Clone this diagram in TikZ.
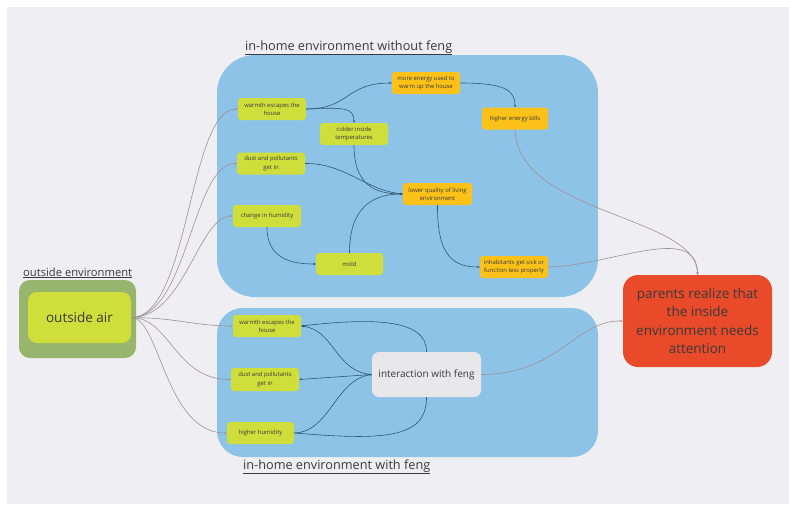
\documentclass[tikz,border=0pt]{standalone}
\usepackage{fontspec}
\setmainfont{Open Sans}
\usetikzlibrary{arrows.meta}
\definecolor{bgpaper}{HTML}{EFEFF3}
\definecolor{zoneblue}{HTML}{8EC3E8}
\definecolor{limefill}{HTML}{CFDE3A}
\definecolor{amberfill}{HTML}{FCC21A}
\definecolor{olivefill}{HTML}{98B56D}
\definecolor{alertred}{HTML}{E84A2A}
\definecolor{softgray}{HTML}{E8E8EA}
\definecolor{inkdark}{HTML}{3A3A3A}
\definecolor{wireout}{HTML}{9C9292}
\definecolor{wirein}{HTML}{2F5874}
\tikzset{
  zone/.style={fill=zoneblue, draw=none},
  card/.style={rounded corners=3pt, draw=none, text=inkdark, font=\fontsize{5.9}{8.2}\selectfont,
    minimum width=68pt, minimum height=22pt, align=center, inner sep=1pt},
  limecard/.style={card, fill=limefill},
  ambercard/.style={card, fill=amberfill},
  heading/.style={text=inkdark, font=\fontsize{12.7}{14}\selectfont, inner sep=0pt},
  wireo/.style={draw=wireout, line width=0.6pt, -{Stealth[length=2.6pt,width=2.2pt]}},
  wirei/.style={draw=wirein, line width=0.6pt, -{Stealth[length=2.6pt,width=2.2pt]}},
}
\begin{document}
\begin{tikzpicture}[x=1pt, y=-1pt]
  % canvas
  \useasboundingbox (0,0) rectangle (789,504);
  \fill[white] (0,0) rectangle (789,504);
  \fill[bgpaper] (7,7) rectangle (789,504);

  % zones
  \fill[zone, rounded corners=38pt] (217,55) rectangle (598,297);
  \fill[zone, rounded corners=26pt] (217,308) rectangle (598,457);
  \node[heading, anchor=base west] (ttop) at (245,50) {\underline{in-home environment without feng}};
  \node[heading, anchor=base west] (tbot) at (243,469) {\underline{in-home environment with feng}};
  \node[heading, anchor=base west, font=\fontsize{11.2}{13}\selectfont] (tout) at (23,276) {\underline{outside environment}};

  % outside air
  \node[fill=olivefill, rounded corners=11pt, minimum width=117pt, minimum height=78pt, draw=none] (outer) at (77.5,319) {};
  \node[fill=limefill, rounded corners=9pt, minimum width=103pt, minimum height=51pt, text=inkdark,
        font=\fontsize{13.5}{16}\selectfont] (air) at (79.5,317.5) {outside air};

  % outcome
  \node[fill=alertred, rounded corners=15pt, minimum width=149pt, minimum height=92pt, text=inkdark,
        align=center, font=\fontsize{13.5}{18.5}\selectfont] (alert) at (697.5,321)
        {parents realize that\\the inside\\environment needs\\attention};

  % without feng
  \node[limecard] (tw) at (272,109) {warmth escapes the\\house};
  \node[ambercard] (te) at (426,83) {more energy used to\\warm up the house};
  \node[ambercard, minimum width=66pt] (tb) at (515,118.5) {higher energy bills};
  \node[limecard] (tc) at (354,134) {colder inside\\temperatures};
  \node[limecard] (td) at (271,163.5) {dust and pollutants\\get in};
  \node[ambercard, minimum width=69pt] (tq) at (437.5,194) {lower quality of living\\environment};
  \node[limecard] (th) at (267,216) {change in humidity};
  \node[limecard, minimum width=67pt] (tm) at (349.5,264) {mold};
  \node[ambercard] (ti) at (514,267) {inhabitants get sick or\\function less properly};

  % with feng
  \node[limecard] (bw) at (267,326) {warmth escapes the\\house};
  \node[limecard, minimum height=23pt] (bd) at (265,379.5) {dust and pollutants\\get in};
  \node[limecard, minimum width=67pt] (bh) at (260.5,433) {higher humidity};
  \node[fill=softgray, rounded corners=7pt, minimum width=109pt, minimum height=45pt, text=inkdark,
        font=\fontsize{10}{12}\selectfont] (bi) at (426.5,374.5) {interaction with feng};

  % outside air into both zones
  \draw[wireo] (air.east) .. controls (190,317.5) and (188,109) .. (tw.west);
  \draw[wireo] (air.east) .. controls (188,317.5) and (192,163.5) .. (td.west);
  \draw[wireo] (air.east) .. controls (185,317.5) and (198,216) .. (th.west);
  \draw[wireo] (air.east) .. controls (175,317.5) and (195,326) .. (bw.west);
  \draw[wireo] (air.east) .. controls (170,317.5) and (175,379.5) .. (bd.west);
  \draw[wireo] (air.east) .. controls (160,317.5) and (165,433) .. (bh.west);

  % chain without feng
  \draw[wirei] (tw.east) .. controls (350,109) and (345,83) .. (te.west);
  \draw[wirei] (tw.east) .. controls (345,107) and (354,108) .. (tc.north);
  \draw[wirei] (te.east) .. controls (505,83) and (515,90) .. (tb.north);
  \draw[wirei] (tc.south) .. controls (354,185) and (375,194) .. (tq.west);
  \draw[wirei] (td.east) .. controls (345,163) and (365,190) .. (tq.west);
  \draw[wirei] (tm.north) .. controls (349.5,205) and (375,194) .. (tq.west);
  \draw[wirei] (th.south) .. controls (267,258) and (290,264) .. (tm.west);
  \draw[wirei] (tq.south) .. controls (437,258) and (455,267) .. (ti.west);
  \draw[wireo] (tb.south) .. controls (518,215) and (697,215) .. (alert.north);
  \draw[wireo] (ti.east) .. controls (610,266) and (697,222) .. (alert.north);

  % chain with feng
  \draw[wirei] (bi.west) .. controls (335,372) and (335,330) .. (bw.east);
  \draw[wirei] (bi.north) .. controls (427,318) and (370,318) .. (bw.east);
  \draw[wirei] (bi.west) -- (bd.east);
  \draw[wirei] (bh.east) .. controls (330,432) and (335,380) .. (bi.west);
  \draw[wirei, -] (bh.east) .. controls (380,440) and (427,440) .. (bi.south);
  \draw[wireo] (bi.east) .. controls (560,374) and (575,320) .. (alert.west);
\end{tikzpicture}
\end{document}
